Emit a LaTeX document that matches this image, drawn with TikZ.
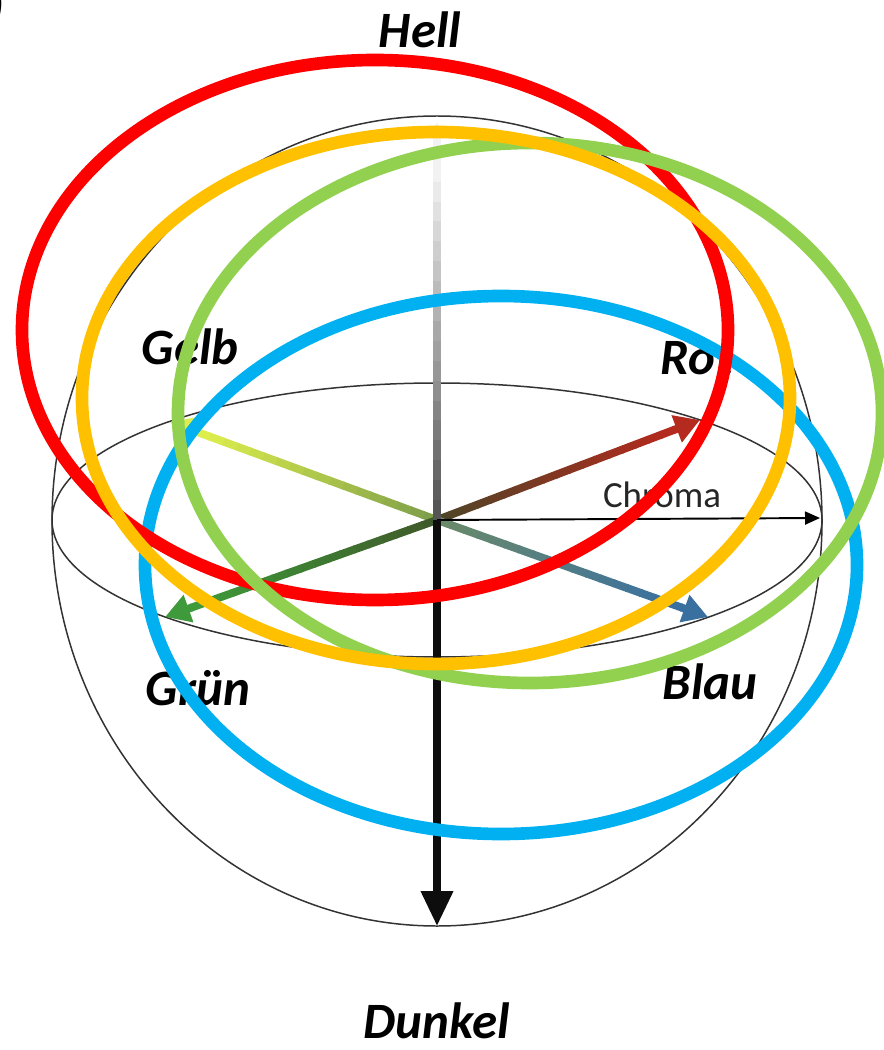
\documentclass[tikz,border=0pt]{standalone}
\usepackage{xcolor}
\usepackage{fontspec}
\setmainfont{Carlito}
\usepackage{tikz}
\usetikzlibrary{arrows.meta,calc}

\definecolor{ringred}{HTML}{FF0000}
\definecolor{ringorange}{HTML}{FFC000}
\definecolor{ringgreen}{HTML}{92D050}
\definecolor{ringblue}{HTML}{00B0F0}
\definecolor{rotA}{HTML}{4F4426}
\definecolor{rotB}{HTML}{B42A1E}
\definecolor{gelbA}{HTML}{7F9F4A}
\definecolor{gelbB}{HTML}{DDEE4C}
\definecolor{gruenA}{HTML}{3F5A2A}
\definecolor{gruenB}{HTML}{3E9A3A}
\definecolor{blauA}{HTML}{6A8A6A}
\definecolor{blauB}{HTML}{3A70A0}
\definecolor{hellA}{HTML}{555555}
\definecolor{hellB}{HTML}{F2F2F2}

\tikzset{
  lbl/.style={font=\fontsize{29}{32}\selectfont\bfseries\itshape,inner sep=1pt},
  ring/.style={line width=7.2pt},
  shell/.style={black!80,line width=0.85pt},
}

\begin{document}
\begin{tikzpicture}[x=0.02cm,y=-0.02cm,line join=round]
      \useasboundingbox (0,0) rectangle (884,1050);
      \coordinate (O) at (437,520);
      \coordinate (rottip) at (700,420);
      \coordinate (gelbtip) at (170,422);
      \coordinate (gruentip) at (165,617);
      \coordinate (blautip) at (708,617);
      \coordinate (helltip) at (437,122);
      \coordinate (dunkeltip) at (437,926);
      \coordinate (chromatip) at (820,518);
      % sphere and equator
      \draw[shell] (437,521) ellipse [x radius=385, y radius=405];
      \draw[shell] (O) ellipse [x radius=385, y radius=137];
      % hue arrows, shaded from the centre outwards
      \foreach \tip/\ca/\cb in {rottip/rotA/rotB,gelbtip/gelbA/gelbB,gruentip/gruenA/gruenB,blautip/blauA/blauB}{
        \foreach \i in {0,...,17}{
          \pgfmathtruncatemacro{\p}{100-\i*100/17}
          \pgfmathsetmacro{\a}{\i*0.05}
          \pgfmathsetmacro{\b}{\i*0.05+0.055}
          \draw[line width=4.5pt,\ca!\p!\cb] ($(O)!\a!(\tip)$) -- ($(O)!\b!(\tip)$);
        }
        \draw[line width=4.5pt,\cb,-{Triangle[length=0.5cm,width=0.55cm]}] ($(O)!0.9!(\tip)$) -- (\tip);
      }
      % lightness axis up
      \foreach \i in {0,...,17}{
        \pgfmathtruncatemacro{\p}{100-\i*100/17}
        \pgfmathsetmacro{\a}{\i*0.05}
        \pgfmathsetmacro{\b}{\i*0.05+0.055}
        \draw[line width=4.5pt,hellA!\p!hellB] ($(O)!\a!(helltip)$) -- ($(O)!\b!(helltip)$);
      }
      \draw[line width=4.5pt,hellB,-{Triangle[length=0.3cm,width=0.32cm]}] ($(O)!0.9!(helltip)$) -- (helltip);
      % chroma and dark axis
      \draw[line width=1.1pt,-{Triangle[length=0.3cm,width=0.26cm]}] (O) -- (chromatip);
      \draw[line width=4pt,black!95,-{Triangle[length=0.7cm,width=0.62cm]}] (O) -- (dunkeltip);
      \node[font=\fontsize{21}{24}\selectfont,black!85] (chroma) at (662,495) {Chroma};
      % labels
      \node[lbl] (paren) at (-4,8) {)};
      \node[lbl] (hell) at (420,30) {Hell};
      \node[lbl] (gelb) at (190,347) {Gelb};
      \node[lbl] (rot) at (697,358) {Rot};
      \node[lbl] (gruen) at (198,688) {Grün};
      \node[lbl] (blau) at (710,682) {Blau};
      \node[lbl] (dunkel) at (437,1021) {Dunkel};
      % rings
      \draw[ring,ringblue] (501,565) ellipse [x radius=356, y radius=269];
      \draw[ring,ringred] (375,330) ellipse [x radius=353, y radius=270];
      \draw[ring,ringgreen] (530,413) ellipse [x radius=352, y radius=270];
      \draw[ring,ringorange] (436,398) ellipse [x radius=354, y radius=266];
\end{tikzpicture}
\end{document}
